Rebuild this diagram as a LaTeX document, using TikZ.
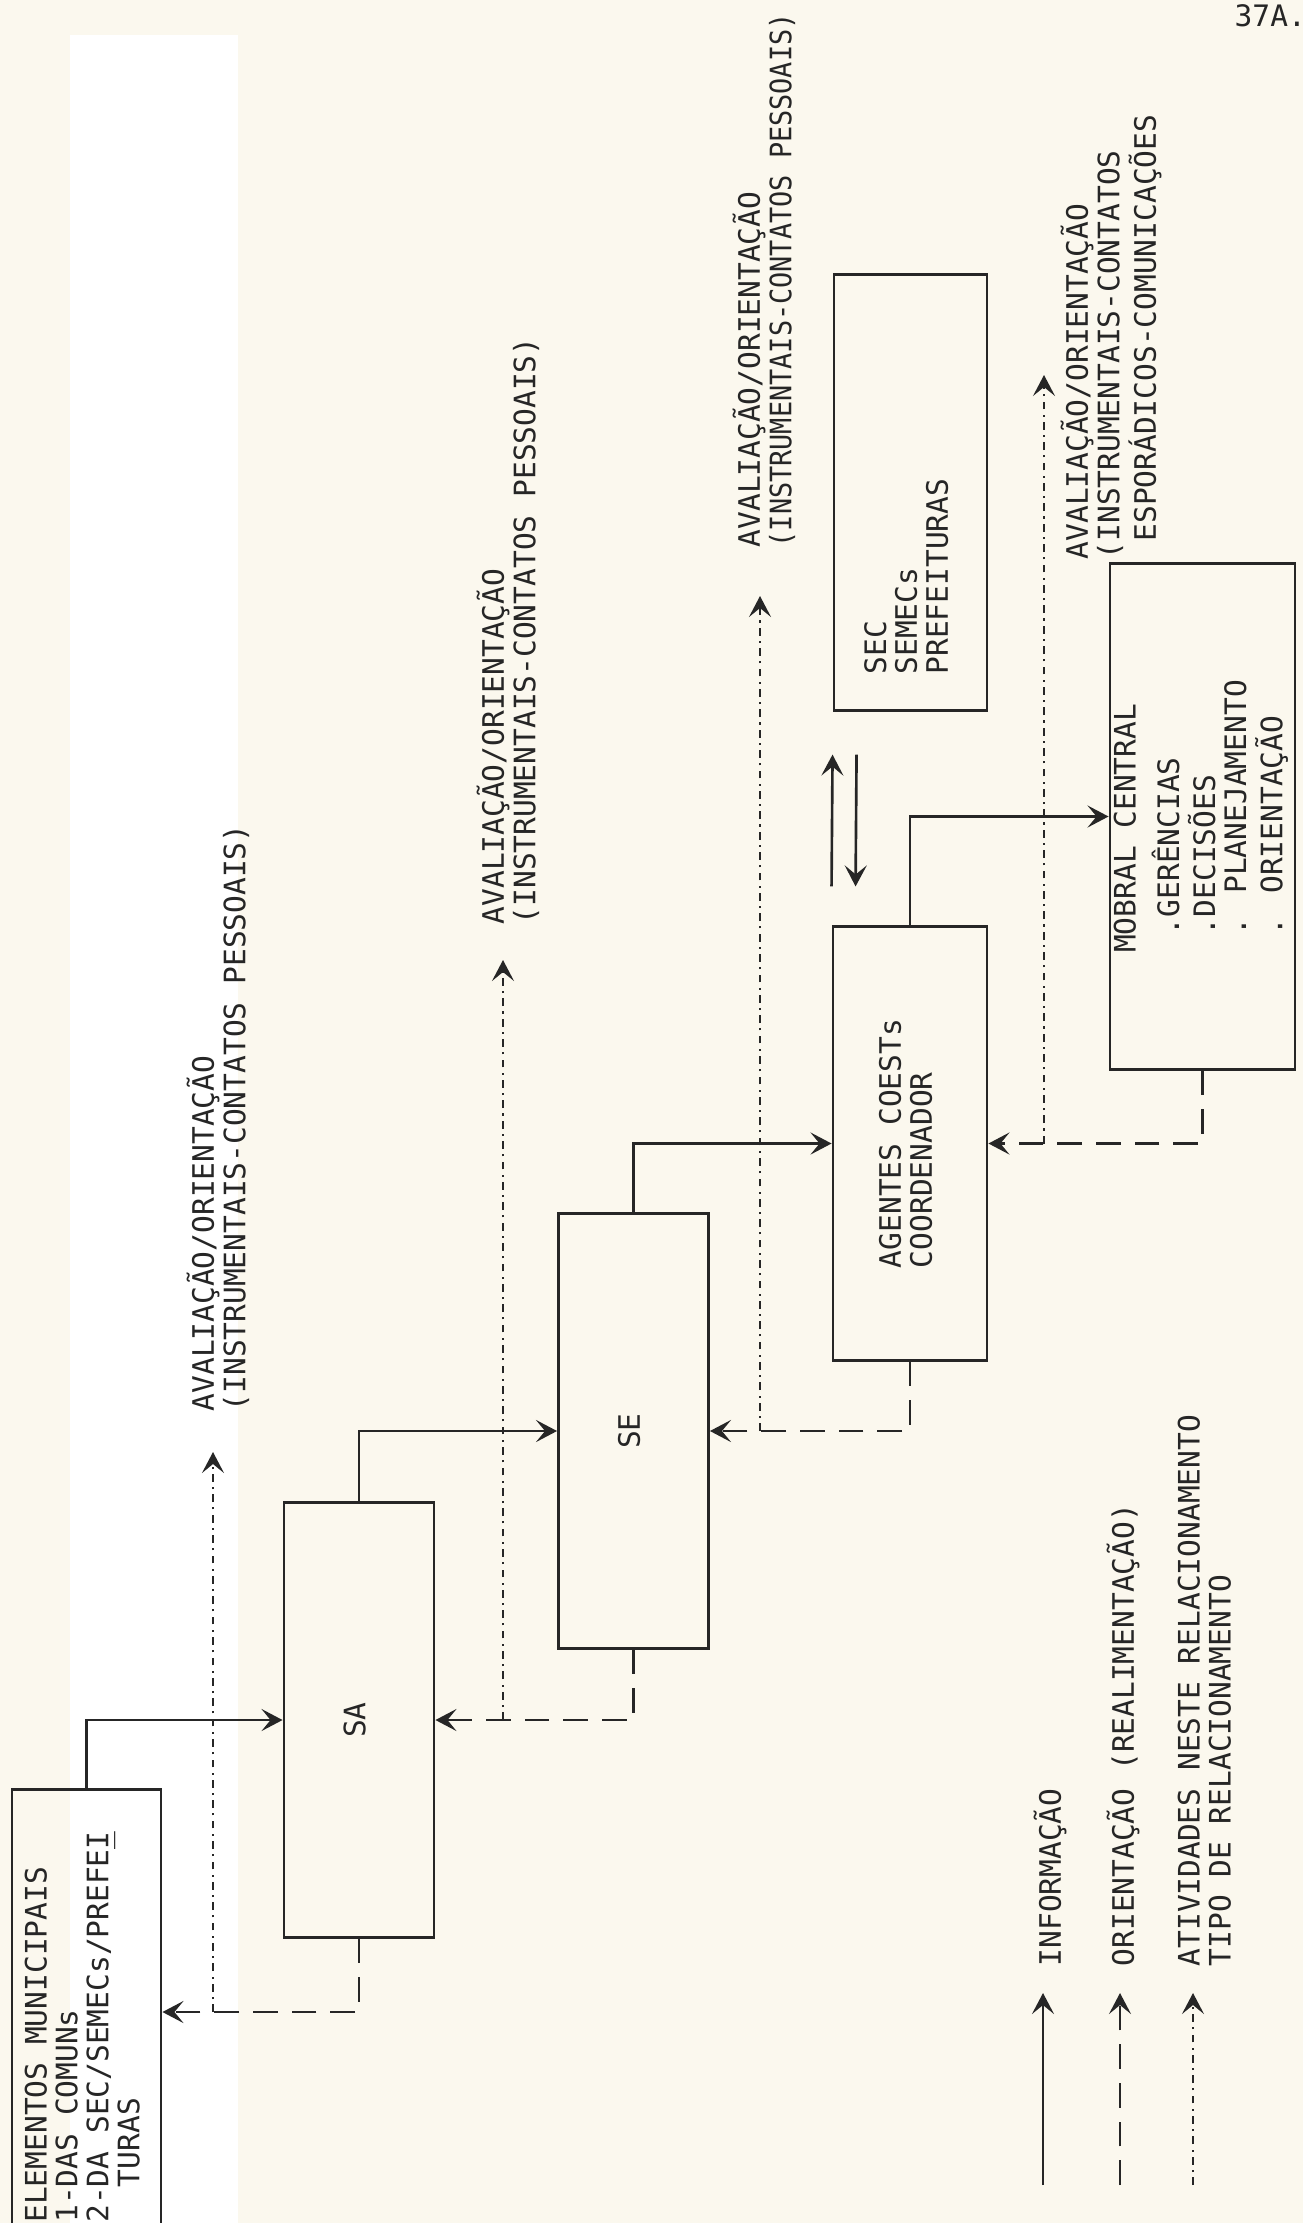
\documentclass[tikz,border=0pt]{standalone}
\usepackage{fontspec}
\newfontfamily\tw{DejaVu Sans Mono}
\usetikzlibrary{arrows.meta,calc}
\definecolor{paper}{RGB}{251,248,238}
\definecolor{ink}{RGB}{38,38,38}
% typed text turned to read upwards
\newcommand\vlines[2][0pt]{\rotatebox{90}{\begin{tabular}{@{}l@{}}#2\end{tabular}\hspace{#1}}}

\begin{document}
\begin{tikzpicture}[x=0.01cm, y=-0.01cm, >={Stealth[length=2.1mm,width=2.2mm,inset=0.9mm]},
  every node/.style={font=\tw\fontsize{8.4}{8.55}\selectfont, text=ink, inner sep=0pt},
  unit/.style={draw=ink, line width=0.8pt, minimum width=1.5cm, minimum height=4.34cm},
  info/.style={->, draw=ink, line width=0.75pt},
  back/.style={->, draw=ink, line width=0.75pt, dash pattern=on 7pt off 4pt},
  act/.style={->, draw=ink, line width=0.55pt, dash pattern=on 2.2pt off 1.5pt on 0.6pt off 1.5pt}]
  \useasboundingbox (0,0) rectangle (1303,2223);
  \fill[paper] (0,0) rectangle (1303,2223);
  \fill[white] (70,35) rectangle (238,2223);

  % boxes
  \node[unit, minimum width=1.49cm, minimum height=4.44cm] (ELEM) at (86.5,2012) {\vlines[0.3cm]{ELEMENTOS MUNICIPAIS\\1-DAS COMUNs\\2-DA SEC/SEMECs/PREFE\rlap{\_}I\\\phantom{2-}TURAS}};
  \node[unit] (SA) at (359,1720) {\vlines{SA}};
  \node[unit] (SE) at (633.5,1431) {\vlines{SE}};
  \node[unit, minimum width=1.54cm, minimum height=4.33cm] (AG) at (910,1143.5) {\vlines{AGENTES COESTs\\COORDENADOR}};
  \node[unit, minimum width=1.53cm, minimum height=4.35cm] (SEC) at (910.5,492.5) {\vlines[1.68cm]{SEC\\SEMECs\\PREFEITURAS}};
  \node[unit, minimum width=1.85cm, minimum height=5.05cm] (MOB) at (1202.5,816.5) {\vlines{MOBRAL CENTRAL\\[2pt]\phantom{M}.GERÊNCIAS\\\phantom{M}.DECISÕES\\\phantom{M}. PLANEJAMENTO\\\phantom{M}. ORIENTAÇÃO}};

  % labels of the activities
  \node[anchor=south west] (lab1) at (186,1412) {\vlines{AVALIAÇÃO/ORIENTAÇÃO\\(INSTRUMENTAIS-CONTATOS PESSOAIS)}};
  \node[anchor=south west] (lab2) at (476,925) {\vlines{AVALIAÇÃO/ORIENTAÇÃO\\(INSTRUMENTAIS-CONTATOS PESSOAIS)}};
  \node[anchor=south west] (lab3) at (732,548) {\vlines{AVALIAÇÃO/ORIENTAÇÃO\\\scalebox{0.91}[1]{(INSTRUMENTAIS-CONTATOS PESSOAIS)}}};
  \node[anchor=south west] (lab4) at (1060,560) {\vlines{AVALIAÇÃO/ORIENTAÇÃO\\(INSTRUMENTAIS-CONTATOS\\\phantom{(}ESPORÁDICOS-COMUNICAÇÕES}};
  \node[anchor=base west] (page) at (1234,26) {37A.};

  % information
  \draw[info] (ELEM.north) |- (SA.west);
  \draw[info] (SA.north) |- (SE.west);
  \draw[info] (SE.north) |- (AG.west);
  \draw[info] (AG.north) |- (MOB.west);
  \draw[info] ([yshift=0.39cm]AG.north west) -- ([yshift=-0.43cm]SEC.south west);
  \draw[info] ([xshift=0.24cm,yshift=-0.43cm]SEC.south west) -- ([xshift=0.24cm,yshift=0.39cm]AG.north west);

  % orientation (feedback)
  \draw[back] (SA.south) |- (ELEM.east);
  \draw[back] (SE.south) |- (SA.east);
  \draw[back] (AG.south) |- (SE.east);
  \draw[back] (MOB.south) |- (AG.east);

  % activities
  \coordinate (t1) at (213,1452);
  \coordinate (t2) at (503,960);
  \coordinate (t3) at (760,596);
  \coordinate (t4) at (1044,375);
  \draw[act] (ELEM.east -| t1) -- (t1);
  \draw[act] (SA.east -| t2) -- (t2);
  \draw[act] (SE.east -| t3) -- (t3);
  \draw[act] (AG.east -| t4) -- (t4);

  % key
  \node[anchor=south west] (key1) at (1033,1967) {\vlines{INFORMAÇÃO}};
  \node[anchor=south west] (key2) at (1106,1967) {\vlines{ORIENTAÇÃO (REALIMENTAÇÃO)}};
  \node[anchor=south west] (key3) at (1177,1967) {\vlines{ATIVIDADES NESTE RELACIONAMENTO\\TIPO DE RELACIONAMENTO}};
  \coordinate (k1s) at (1043,2185); \coordinate (k1e) at (1043,1993);
  \coordinate (k2s) at (1120,2185); \coordinate (k2e) at (1120,1993);
  \coordinate (k3s) at (1193,2185); \coordinate (k3e) at (1193,1993);
  \draw[info] (k1s) -- (k1e);
  \draw[back] (k2s) -- (k2e);
  \draw[act] (k3s) -- (k3e);
\end{tikzpicture}
\end{document}
